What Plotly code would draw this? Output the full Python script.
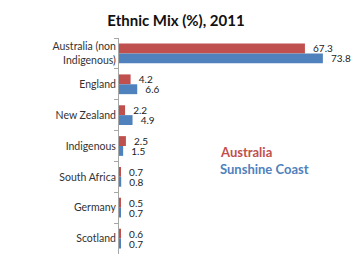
import plotly.graph_objects as go

categories = ["Australia (non<br>Indigenous)", "England", "New Zealand", "Indigenous",
              "South Africa", "Germany", "Scotland"]
australia = [67.3, 4.2, 2.2, 2.5, 0.7, 0.5, 0.6]
sunshine = [73.8, 6.6, 4.9, 1.5, 0.8, 0.7, 0.7]

RED = "#C0504D"
BLUE = "#4F81BD"
FONT = "Lato, 'Open Sans', sans-serif"

fig = go.Figure()
fig.add_trace(go.Bar(
    y=categories, x=australia, orientation="h", name="Australia",
    marker=dict(color=RED, line=dict(width=0)),
    text=["  " + f"{v:.1f}" for v in australia], textposition="outside",
    constraintext="none",
    textfont=dict(size=10, color="#222222", family=FONT), cliponaxis=False,
))
fig.add_trace(go.Bar(
    y=categories, x=sunshine, orientation="h", name="Sunshine Coast",
    marker=dict(color=BLUE, line=dict(width=0)),
    text=["  " + f"{v:.1f}" for v in sunshine], textposition="outside",
    constraintext="none",
    textfont=dict(size=10, color="#222222", family=FONT), cliponaxis=False,
))

fig.update_layout(
    width=352, height=271,
    margin=dict(l=119, r=12, t=38, b=17),
    paper_bgcolor="white", plot_bgcolor="white",
    barmode="group", bargap=0.36, bargroupgap=0,
    showlegend=False,
    font=dict(family=FONT, color="#333333"),
    title=dict(text="<b>Ethnic Mix (%), 2011</b>", x=0.5, xanchor="center",
               y=0.925, yanchor="middle", font=dict(size=15, color="#111111", family=FONT)),
    xaxis=dict(range=[0, 80], showgrid=False, zeroline=False, showline=False,
               showticklabels=False, ticks=""),
    yaxis=dict(autorange="reversed", showgrid=False, showline=True, linecolor="#A6A6A6",
               linewidth=1, ticks="outside", ticklen=4, tickcolor="#A6A6A6",
               tickson="boundaries", tickfont=dict(size=10.5, color="#333333", family=FONT)),
)

fig.add_annotation(text="<b>Australia</b>", xref="paper", yref="paper",
                   x=(218 - 119) / 221, y=(271 - 17 - 152) / 216, xanchor="left", yanchor="middle",
                   showarrow=False, font=dict(size=13, color=RED, family=FONT))
fig.add_annotation(text="<b>Sunshine Coast</b>", xref="paper", yref="paper",
                   x=(218 - 119) / 221, y=(271 - 17 - 169) / 216, xanchor="left", yanchor="middle",
                   showarrow=False, font=dict(size=13, color=BLUE, family=FONT))

fig.write_html("out.html")
